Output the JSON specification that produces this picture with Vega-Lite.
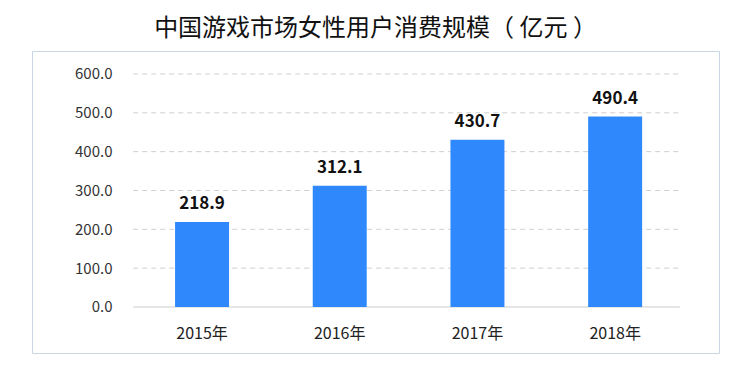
{
  "$schema": "https://vega.github.io/schema/vega-lite/v6.json",
  "width": 687,
  "height": 302,
  "autosize": {"type": "none"},
  "padding": {"left": 32, "top": 51, "right": 31, "bottom": 16},
  "background": "#ffffff",
  "title": {
    "text": "中国游戏市场女性用户消费规模（ 亿元 ）",
    "font": "Noto Sans CJK SC",
    "fontSize": 24,
    "fontWeight": "normal",
    "color": "#111111",
    "anchor": "middle",
    "offset": 10
  },
  "config": {
    "view": {"stroke": "#c9d6e3", "strokeWidth": 1},
    "font": "Noto Sans CJK SC"
  },
  "data": {
    "values": [
      {"year": "2015年", "value": 218.9},
      {"year": "2016年", "value": 312.1},
      {"year": "2017年", "value": 430.7},
      {"year": "2018年", "value": 490.4}
    ]
  },
  "encoding": {
    "x": {
      "field": "year",
      "type": "nominal",
      "sort": null,
      "scale": {"domain": ["2015年", "2016年", "2017年", "2018年"], "paddingInner": 0, "paddingOuter": 0.4945, "align": 0.743},
      "axis": {
        "title": null,
        "domain": false,
        "ticks": false,
        "tickSize": 0,
        "grid": false,
        "labelAngle": 0,
        "labelFontSize": 16,
        "labelColor": "#222222",
        "labelPadding": 18,
        "offset": -46
      }
    }
  },
  "layer": [
    {
      "data": {"values": [{"g": 100}, {"g": 200}, {"g": 300}, {"g": 400}, {"g": 500}, {"g": 600}]},
      "mark": {"type": "rule", "color": "#cfcfcf", "strokeWidth": 1, "strokeDash": [5, 4]},
      "encoding": {
        "x": {"datum": "2015年", "bandPosition": 0},
        "x2": {"datum": "2018年", "bandPosition": 0.97},
        "y": {"field": "g", "type": "quantitative"}
      }
    },
    {
      "data": {"values": [{"g": 0}]},
      "mark": {"type": "rule", "color": "#cccccc", "strokeWidth": 1},
      "encoding": {
        "x": {"datum": "2015年", "bandPosition": 0},
        "x2": {"datum": "2018年", "bandPosition": 0.97},
        "y": {"field": "g", "type": "quantitative"}
      }
    },
    {
      "mark": {"type": "bar", "color": "#2f89fc", "width": {"band": 0.392}},
      "encoding": {
        "y": {
          "field": "value",
          "type": "quantitative",
          "scale": {"domain": [-118.5, 659.2], "nice": false, "zero": false},
          "axis": {
            "title": null,
            "values": [0, 100, 200, 300, 400, 500, 600],
            "format": ".1f",
            "domain": false,
            "ticks": false,
            "tickSize": 0,
            "grid": false,
            "labelPadding": 0,
            "labelFontSize": 15,
            "labelColor": "#333333",
            "offset": -80
          }
        },
        "y2": {"datum": 0}
      }
    },
    {
      "mark": {"type": "text", "fontWeight": "bold", "fontSize": 17, "color": "#111111", "baseline": "alphabetic", "dy": -13},
      "encoding": {
        "y": {"field": "value", "type": "quantitative"},
        "text": {"field": "value", "type": "quantitative", "format": ".1f"}
      }
    }
  ]
}
